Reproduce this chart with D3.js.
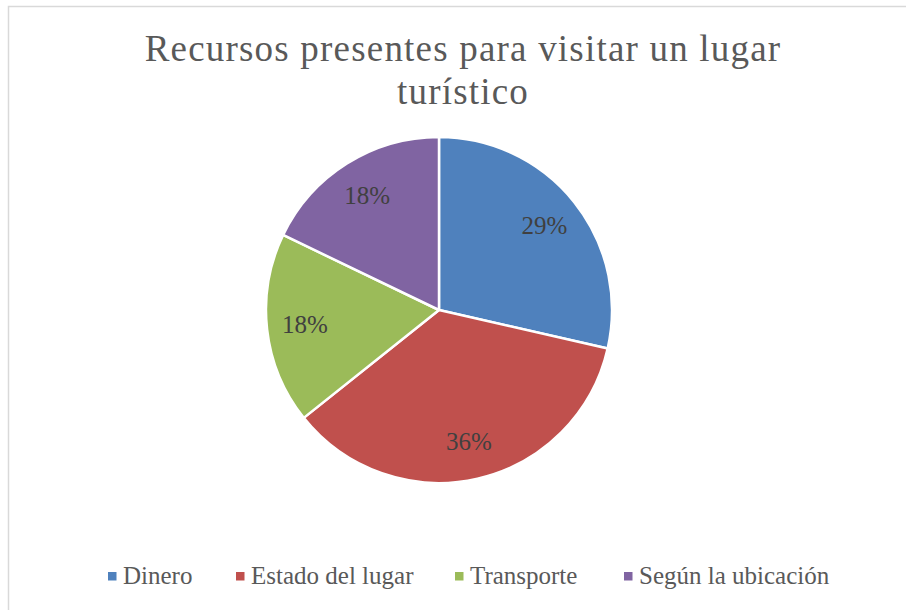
<!DOCTYPE html>
<html>
<head>
<meta charset="utf-8">
<script src="https://cdn.jsdelivr.net/npm/d3@7"></script>
<style>
  body { margin: 0; background: #fff; }
  text { font-family: "Liberation Serif", "DejaVu Serif", serif; }
</style>
</head>
<body>
<svg id="chart"></svg>
<script>
const width = 906;
const height = 610;

const categories = ["Dinero", "Estado del lugar", "Transporte", "Según la ubicación"];
const counts = [8, 10, 5, 5];
const colors = ["#4F81BD", "#C0504D", "#9BBB59", "#8064A2"];
const titleLines = ["Recursos presentes para visitar un lugar", "turístico"];

const svg = d3.select("#chart")
    .attr("width", width)
    .attr("height", height);

// chart area border
svg.append("path")
    .attr("d", `M8.5,${height} V6.5 H${width}`)
    .attr("fill", "none")
    .attr("stroke", "#d9d9d9")
    .attr("stroke-width", 1.5);

// title
const title = svg.append("g").attr("id", "title");
titleLines.forEach((line, i) => {
    title.append("text")
        .attr("x", 463)
        .attr("y", 61 + i * 43)
        .attr("text-anchor", "middle")
        .attr("font-size", 37)
        .attr("letter-spacing", 1.2)
        .attr("fill", "#595959")
        .text(line);
});

// pie
const cx = 439, cy = 310, r = 173;
const total = d3.sum(counts);
const pie = d3.pie().sort(null).value(d => d);
const arcs = pie(counts);
const arc = d3.arc().innerRadius(0).outerRadius(r);

const g = svg.append("g").attr("transform", `translate(${cx},${cy})`);

g.selectAll("path.slice")
    .data(arcs)
    .enter()
    .append("path")
    .attr("class", "slice")
    .attr("d", arc)
    .attr("fill", (d, i) => colors[i])
    .attr("stroke", "#fff")
    .attr("stroke-width", 2.5)
    .attr("stroke-linejoin", "round");

const labelArc = d3.arc().innerRadius(r * 0.78).outerRadius(r * 0.78);
g.selectAll("text.label")
    .data(arcs)
    .enter()
    .append("text")
    .attr("class", "label")
    .attr("transform", d => `translate(${labelArc.centroid(d)})`)
    .attr("text-anchor", "middle")
    .attr("dy", "0.33em")
    .attr("font-size", 25)
    .attr("fill", "#404040")
    .text(d => Math.round(d.value / total * 100) + "%");

// legend
const legendX = [108, 236, 455, 624];
const legend = svg.append("g").attr("id", "legend");
categories.forEach((c, i) => {
    legend.append("rect")
        .attr("x", legendX[i])
        .attr("y", 572)
        .attr("width", 8.5)
        .attr("height", 8.5)
        .attr("fill", colors[i]);
    legend.append("text")
        .attr("x", legendX[i] + 15)
        .attr("y", 584)
        .attr("font-size", 25)
        .attr("fill", "#595959")
        .text(c);
});
</script>
</body>
</html>
